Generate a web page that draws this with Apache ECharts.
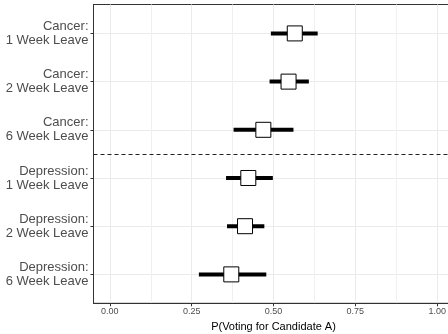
<!DOCTYPE html>
<html>
<head>
<meta charset="utf-8">
<script src="https://cdn.jsdelivr.net/npm/echarts@6/dist/echarts.min.js"></script>
<style>
  html, body { margin: 0; padding: 0; background: #fff; }
  #chart { width: 448px; height: 334px; }
</style>
</head>
<body>
<div id="chart"></div>
<script>
const categories = [
  'Cancer:\n1 Week Leave',
  'Cancer:\n2 Week Leave',
  'Cancer:\n6 Week Leave',
  'Depression:\n1 Week Leave',
  'Depression:\n2 Week Leave',
  'Depression:\n6 Week Leave'
];
const estimates = [0.565, 0.546, 0.469, 0.423, 0.413, 0.371];
const lower = [0.492, 0.488, 0.378, 0.355, 0.358, 0.272];
const upper = [0.635, 0.608, 0.561, 0.498, 0.472, 0.478];
const xTicks = [0, 0.25, 0.5, 0.75, 1];
const xMinorTicks = [0.125, 0.375, 0.625, 0.875];
const dividerAt = 3.5;

const font = 'Liberation Sans, Arial, sans-serif';
const positions = categories.map((c, i) => i + 1);

const chart = echarts.init(document.getElementById('chart'), null, { renderer: 'canvas' });

// error bar data: [low, high, position]
const ciData = categories.map((c, i) => [lower[i], upper[i], positions[i]]);
const pointData = categories.map((c, i) => [estimates[i], positions[i]]);

const option = {
  animation: false,
  backgroundColor: '#fff',
  textStyle: { fontFamily: font },
  grid: {
    left: 93.5,
    top: 4.5,
    width: 360,
    height: 298.8,
    containLabel: false,
    outerBoundsMode: 'none',
    show: true,
    borderColor: '#333',
    borderWidth: 1,
    backgroundColor: '#fff'
  },
  xAxis: [{
    type: 'value',
    min: -0.05,
    max: 1.05,
    name: 'P(Voting for Candidate A)',
    nameLocation: 'middle',
    nameGap: 15,
    nameTextStyle: { color: '#000', fontSize: 11, fontFamily: font },
    axisLine: { show: true, onZero: false, lineStyle: { color: '#333', width: 1 } },
    axisTick: { show: true, length: 3, customValues: xTicks, lineStyle: { color: '#333' } },
    axisLabel: {
      customValues: xTicks,
      margin: 4,
      fontSize: 9,
      color: '#4D4D4D',
      fontFamily: font,
      formatter: v => v.toFixed(2)
    },
    splitLine: { show: true, customValues: xTicks, lineStyle: { color: '#EBEBEB', width: 1 } }
  }, {
    type: 'value',
    min: -0.05,
    max: 1.05,
    position: 'bottom',
    axisLine: { show: false, onZero: false },
    axisTick: { show: false, customValues: xMinorTicks },
    axisLabel: { show: false, customValues: xMinorTicks },
    splitLine: { show: true, customValues: xMinorTicks, lineStyle: { color: '#F0F0F0', width: 1 } }
  }],
  yAxis: {
    type: 'value',
    inverse: true,
    min: 0.4,
    max: 6.6,
    axisLine: { show: true, onZero: false, lineStyle: { color: '#333', width: 1 } },
    axisTick: { show: true, length: 3, customValues: positions, lineStyle: { color: '#333' } },
    axisLabel: {
      customValues: positions,
      margin: 5,
      fontSize: 13,
      lineHeight: 14,
      color: '#4D4D4D',
      fontFamily: font,
      align: 'right',
      formatter: v => categories[Math.round(v) - 1] || ''
    },
    splitLine: { show: true, customValues: positions, lineStyle: { color: '#EBEBEB', width: 1 } }
  },
  series: [{
    type: 'custom',
    xAxisIndex: 0,
    data: ciData,
    encode: { x: [0, 1], y: 2 },
    z: 3,
    renderItem: function (params, api) {
      const p0 = api.coord([api.value(0), api.value(2)]);
      const p1 = api.coord([api.value(1), api.value(2)]);
      return {
        type: 'line',
        shape: { x1: p0[0], y1: p0[1], x2: p1[0], y2: p1[1] },
        style: { stroke: '#000', lineWidth: 4 }
      };
    }
  }, {
    type: 'scatter',
    xAxisIndex: 0,
    data: pointData,
    symbol: 'rect',
    symbolSize: 15,
    z: 4,
    itemStyle: { color: '#fff', borderColor: '#000', borderWidth: 1, opacity: 1 },
    markLine: {
      silent: true,
      symbol: 'none',
      label: { show: false },
      lineStyle: { color: '#222', width: 1, type: [4, 3] },
      data: [{ yAxis: dividerAt }]
    }
  }]
};

chart.setOption(option);
</script>
</body>
</html>
